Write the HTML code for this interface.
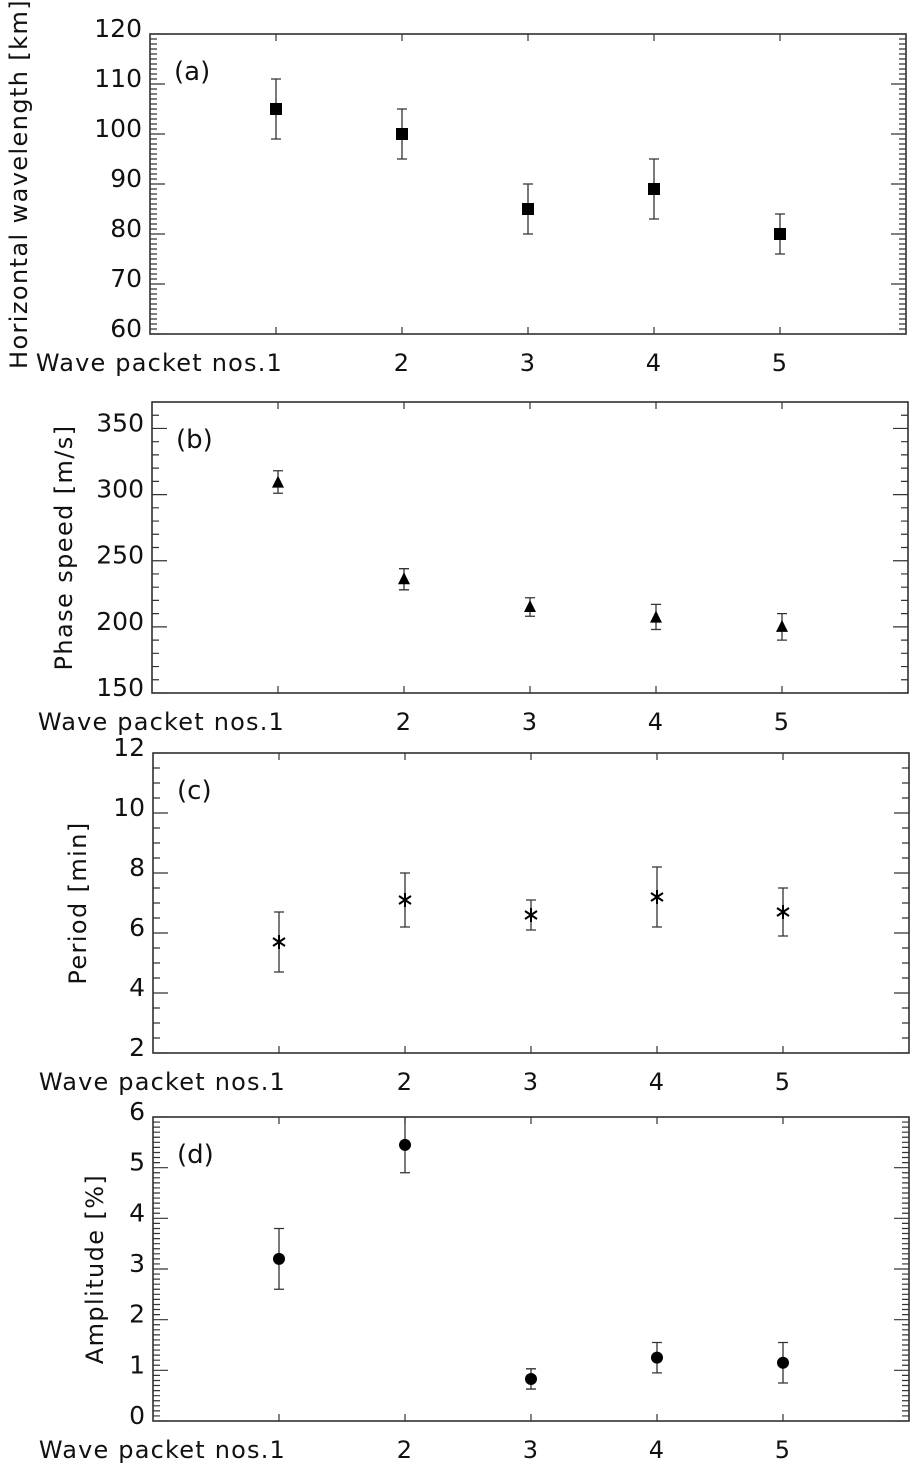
<!DOCTYPE html>
<html><head><meta charset="utf-8"><style>
html,body{margin:0;padding:0;background:#fff;}
svg{display:block;}
text{font-family:"DejaVu Sans","Liberation Sans",sans-serif;fill:#111;}
</style></head><body>
<svg id="chart" width="922" height="1467" viewBox="0 0 922 1467"></svg>
<script>
const categories = [1, 2, 3, 4, 5];
const wavelengthVals = [105, 100, 85, 89, 80];
const wavelengthLo = [99, 95, 80, 83, 76];
const wavelengthHi = [111, 105, 90, 95, 84];
const speedVals = [309, 236, 215, 207, 200];
const speedLo = [301, 228, 208, 198, 190];
const speedHi = [318, 244, 222, 217, 210];
const periodVals = [5.7, 7.1, 6.6, 7.2, 6.7];
const periodLo = [4.7, 6.2, 6.1, 6.2, 5.9];
const periodHi = [6.7, 8.0, 7.1, 8.2, 7.5];
const ampVals = [3.2, 5.45, 0.83, 1.25, 1.15];
const ampLo = [2.6, 4.9, 0.63, 0.95, 0.75];
const ampHi = [3.8, 6.0, 1.03, 1.55, 1.55];
const ticksA = [60, 70, 80, 90, 100, 110, 120];
const ticksB = [150, 200, 250, 300, 350];
const ticksC = [2, 4, 6, 8, 10, 12];
const ticksD = [0, 1, 2, 3, 4, 5, 6];

const NS = 'http://www.w3.org/2000/svg';
const svg = document.getElementById('chart');
function mk(tag, attrs, parent) {
  const e = document.createElementNS(NS, tag);
  for (const k in attrs) e.setAttribute(k, attrs[k]);
  (parent || svg).appendChild(e);
  return e;
}
const panels = [
  {id:'a', left:150, top:34, bottom:334, ymin:60, ymax:120, minor:1, ticks:ticksA, vals:wavelengthVals, lo:wavelengthLo, hi:wavelengthHi, marker:'square', title:'Horizontal wavelength [km]', tx:27},
  {id:'b', left:152, top:402, bottom:693, ymin:150, ymax:370, minor:10, ticks:ticksB, vals:speedVals, lo:speedLo, hi:speedHi, marker:'triangle', title:'Phase speed [m/s]', tx:72},
  {id:'c', left:153, top:753, bottom:1053, ymin:2, ymax:12, minor:0.5, ticks:ticksC, vals:periodVals, lo:periodLo, hi:periodHi, marker:'asterisk', title:'Period [min]', tx:86},
  {id:'d', left:153, top:1117, bottom:1421, ymin:0, ymax:6, minor:0.1, ticks:ticksD, vals:ampVals, lo:ampLo, hi:ampHi, marker:'circle', title:'Amplitude [%]', tx:103}
];
panels.forEach(p => {
  const W = 756, right = p.left + W;
  const g = mk('g', {});
  
  
  const xs = v => p.left + v / 6 * W;
  const ys = v => p.bottom - (v - p.ymin) / (p.ymax - p.ymin) * (p.bottom - p.top);
  const frame = mk('rect', {x:p.left, y:p.top, width:W, height:p.bottom - p.top, fill:'none', stroke:'#222', 'stroke-width':1.5}, g);
  
  
  const n = Math.round((p.ymax - p.ymin) / p.minor);
  let d = '';
  for (let i = 0; i <= n; i++) {
    const v = p.ymin + i * p.minor;
    const y = ys(v);
    const isMaj = p.ticks.some(t => Math.abs(t - v) < 1e-6);
    const L = isMaj ? 15 : 7;
    d += `M${p.left},${y}h${L}M${right},${y}h${-L}`;
  }
  categories.forEach(c => { d += `M${xs(c)},${p.top}v7M${xs(c)},${p.bottom}v-7`; });
  const tk = mk('path', {d:d, stroke:'#333', 'stroke-width':1.2, fill:'none'}, g);
  
  
  p.ticks.forEach(t => {
    const tl = mk('text', {x:p.left - 8, y:ys(t) + 3, 'font-size':25, 'text-anchor':'end'}, g);
    tl.textContent = t;
    
    
  });
  categories.forEach((c, i) => {
    const txt = i === 0 ? 'Wave packet nos.1' : String(c);
    const xl = mk('text', {x:xs(c) + 7, y:p.bottom + 37, 'font-size':24, 'text-anchor':'end', 'letter-spacing':i === 0 ? 1.2 : 0}, g);
    xl.textContent = txt;
    
    
  });
  const ttl = mk('text', {x:0, y:0, 'font-size':24, 'text-anchor':'middle', 'letter-spacing':1.4, transform:`translate(${p.tx},${(p.top + p.bottom) / 2}) rotate(-90)`}, g);
  ttl.textContent = p.title;
  
  
  const pl = mk('text', {x:p.left + 24, y:p.top + 46, 'font-size':26}, g);
  pl.textContent = '(' + p.id + ')';
  
  
  categories.forEach((c, i) => {
    const x = xs(c), y = ys(p.vals[i]), y1 = ys(p.lo[i]), y2 = ys(p.hi[i]);
    const eb = mk('path', {d:`M${x},${y1}V${y2}M${x - 5},${y1}h10M${x - 5},${y2}h10`, stroke:'#333', 'stroke-width':1.3, fill:'none'}, g);
    
    
    let m;
    if (p.marker === 'square') m = mk('rect', {x:x - 6, y:y - 6, width:12, height:12, fill:'#000'}, g);
    else if (p.marker === 'triangle') m = mk('path', {d:`M${x},${y - 7}L${x + 6},${y + 5}L${x - 6},${y + 5}Z`, fill:'#000'}, g);
    else if (p.marker === 'asterisk') m = mk('path', {d:`M${x},${y - 7}V${y + 7}M${x - 6},${y - 4}L${x + 6},${y + 4}M${x - 6},${y + 4}L${x + 6},${y - 4}`, stroke:'#000', 'stroke-width':2, fill:'none'}, g);
    else m = mk('circle', {cx:x, cy:y, r:6, fill:'#000'}, g);
    
    
  });
});
</script>
</body></html>
